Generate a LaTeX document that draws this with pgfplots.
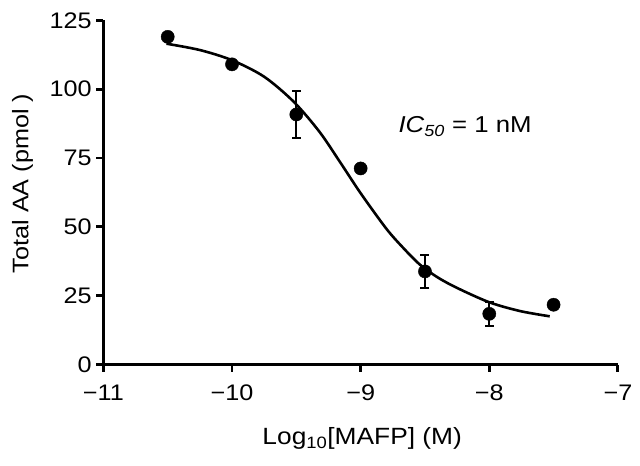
\documentclass[border=0pt]{standalone}
\usepackage{fontspec}
\setmainfont{Liberation Sans}[FakeStretch=1.12]
\usepackage{pgfplots}
\pgfplotsset{compat=1.18}
\usetikzlibrary{calc}
\begin{document}
\begin{tikzpicture}
\begin{axis}[
  name=ax,
  scale only axis,
  width=514.5pt, height=344.2pt,
  xmin=-11, xmax=-7, ymin=0, ymax=125,
  axis lines=left,
  axis line style={-, line width=2.9pt},
  xtick={-11,-10,-9,-8,-7},
  xticklabels={−11,−10,−9,−8,−7},
  ytick={0,25,50,75,100,125},
  tick align=outside,
  major tick length=7pt,
  tick style={line width=2.9pt, black},
  /pgf/number format/assume math mode=true,
  ticklabel style={font=\fontsize{22.5}{27}\selectfont},
  xticklabel style={anchor=base, yshift=-28.5pt},
  yticklabel style={anchor=east, inner sep=0pt, xshift=-4.5pt},
  xlabel={Log\textsubscript{10}[MAFP] (M)},
  ylabel={Total AA (pmol )},
  xlabel style={font=\fontsize{23.5}{28}\selectfont,
    at={(axis description cs:0.503,-0.2324)}, anchor=base},
  ylabel style={font=\fontsize{22.5}{27}\selectfont,
    at={(axis description cs:-0.1458,0.526)}, anchor=base},
  clip=false,
]
% fitted curve
\addplot[smooth, line width=2.6pt, black] coordinates {
  (-10.51,116.5) (-10.25,114.2) (-10.0,110.5) (-9.75,104.5) (-9.52,95.4)
  (-9.32,84.5) (-9.16,73.5) (-9.0,62.2) (-8.8,49.3) (-8.67,42.4)
  (-8.54,36.3) (-8.40,31.6) (-8.25,27.8) (-8.0,22.6) (-7.76,19.4)
  (-7.53,17.5)
};
% measured means +- error
\addplot[only marks, mark=*, mark size=6.6pt, black,
  error bars/.cd, y dir=both, y explicit,
  error bar style={line width=2.3pt},
  error mark options={rotate=90, mark size=4.5pt, line width=2.3pt}]
coordinates {
  (-10.5,119) +- (0,0)
  (-10,109) +- (0,0)
  (-9.5,90.8) +- (0,8.5)
  (-9,71.2) +- (0,0)
  (-8.5,33.8) +- (0,6)
  (-8,18.4) +- (0,4.3)
  (-7.5,21.7) +- (0,0)
};
\node[anchor=base west, inner sep=0pt, font=\fontsize{23}{28}\selectfont]
  at (axis cs:-8.707,84.3) {\textit{IC}\textsubscript{\textit{50}} = 1 nM};
\end{axis}
\pgfresetboundingbox
\path[use as bounding box] ($(ax.south west)+(-103.4pt,-100.5pt)$) rectangle ($(ax.north east)+(22.1pt,20.3pt)$);
\end{tikzpicture}
\end{document}
